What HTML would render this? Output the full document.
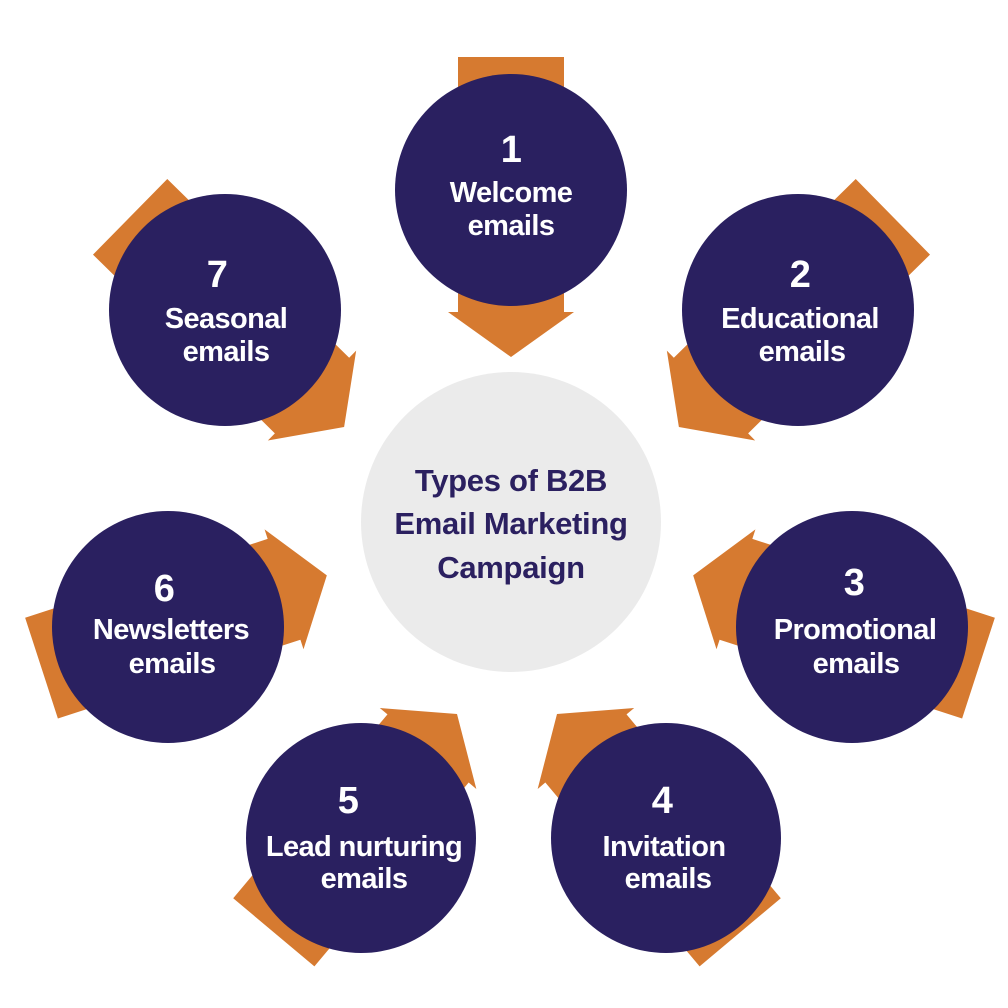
<!DOCTYPE html>
<html><head><meta charset="utf-8"><style>
html,body{margin:0;padding:0;background:#fff;}
svg{display:block;}
text{font-family:"Liberation Sans",sans-serif;font-weight:bold;}
</style></head><body>
<svg width="1008" height="1008" viewBox="0 0 1008 1008" xmlns="http://www.w3.org/2000/svg">
<defs>
<polygon id="arr" points="-133,-53 122,-53 122,-63 167,0 122,63 122,53 -133,53" fill="#d67a30"/>
<polygon id="arrt" points="-285,-53 -45,-53 -45,-63 0,0 -45,63 -45,53 -285,53" fill="#d67a30"/>
</defs>
<circle cx="511" cy="522" r="150" fill="#ebebeb"/>
<g font-size="31" fill="#2b2060" text-anchor="middle" letter-spacing="-0.3">
<text x="511" y="491">Types of B2B</text>
<text x="511" y="534">Email Marketing</text>
<text x="511" y="578">Campaign</text>
</g>

<g transform="translate(511,190) rotate(90)"><use href="#arr"/></g>
<g transform="translate(798,310) rotate(135.5)"><use href="#arr"/></g>
<g transform="translate(852,627) rotate(198)"><use href="#arr"/></g>
<g transform="translate(557,714) rotate(230)"><use href="#arrt"/></g>
<g transform="translate(457,714) rotate(310)"><use href="#arrt"/></g>
<g transform="translate(168,627) rotate(342)"><use href="#arr"/></g>
<g transform="translate(225,310) rotate(44.5)"><use href="#arr"/></g>

<g fill="#2a2060">
<circle cx="511" cy="190" r="116"/>
<circle cx="798" cy="310" r="116"/>
<circle cx="852" cy="627" r="116"/>
<circle cx="666" cy="838" r="115"/>
<circle cx="361" cy="838" r="115"/>
<circle cx="168" cy="627" r="116"/>
<circle cx="225" cy="310" r="116"/>
</g>
<g fill="#fff" text-anchor="middle" font-size="29" letter-spacing="-0.6">
<text x="511" y="162" font-size="38">1</text>
<text x="511" y="202">Welcome</text>
<text x="511" y="235">emails</text>
<text x="800" y="287" font-size="38">2</text>
<text x="800" y="328">Educational</text>
<text x="802" y="361">emails</text>
<text x="854" y="595" font-size="38">3</text>
<text x="855" y="639">Promotional</text>
<text x="856" y="673">emails</text>
<text x="662" y="813" font-size="38">4</text>
<text x="664" y="856">Invitation</text>
<text x="668" y="888">emails</text>
<text x="348" y="813" font-size="38">5</text>
<text x="364" y="856">Lead nurturing</text>
<text x="364" y="888">emails</text>
<text x="164" y="601" font-size="38">6</text>
<text x="171" y="639">Newsletters</text>
<text x="172" y="673">emails</text>
<text x="217" y="287" font-size="38">7</text>
<text x="226" y="328">Seasonal</text>
<text x="226" y="361">emails</text>
</g>
</svg>
</body></html>
